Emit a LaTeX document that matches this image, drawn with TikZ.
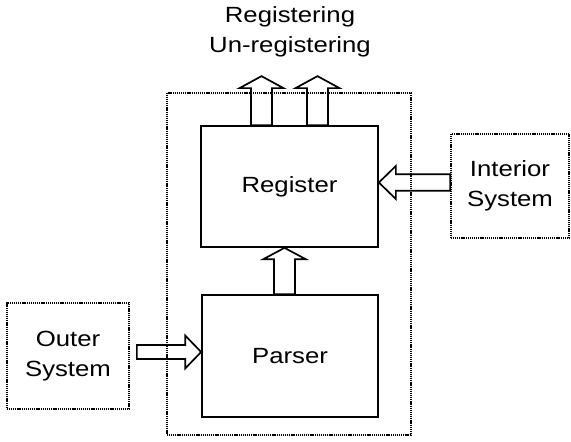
\documentclass[tikz,border=0pt]{standalone}
\usepackage{fontspec}
\setmainfont[FakeStretch=1.17]{Liberation Sans}
\usetikzlibrary{calc}

\tikzset{
  solidbox/.style={draw, line width=1.7pt, rectangle, inner sep=0pt, align=center},
  dotbox/.style={draw, line width=1.7pt, dash pattern=on 1.1pt off 0.8pt, rectangle, inner sep=0pt, align=center},
  blockarrow/.style={draw, line width=1.7pt, line join=miter},
  lbl/.style={align=center, inner sep=0pt}
}

% outlined block arrow: #1 tail, #2 tip, #3 shaft half-width, #4 head half-width, #5 head length
\newcommand\blockarrow[5]{%
  \coordinate (ba-h) at ($(#2)!#5pt!(#1)$);
  \draw[blockarrow]
    ($(#1)!#3pt!90:(#2)$) -- ($(ba-h)!#3pt!90:(#2)$) -- ($(ba-h)!#4pt!90:(#2)$)
    -- (#2)
    -- ($(ba-h)!#4pt!-90:(#2)$) -- ($(ba-h)!#3pt!-90:(#2)$) -- ($(#1)!#3pt!-90:(#2)$) -- cycle;}

\begin{document}
\begin{tikzpicture}[x=1pt, y=1pt, font=\fontsize{22}{29.5}\selectfont]
\useasboundingbox (0,0) rectangle (571,442);

% enclosing subsystem
\node[dotbox, minimum width=244pt, minimum height=342pt] (sys) at (289,178) {};

% inner blocks
\node[solidbox, minimum width=177pt, minimum height=121pt] (reg) at (289.5,255.5) {Register};
\node[solidbox, minimum width=176pt, minimum height=122pt] (par) at (290,86) {Parser};

% external systems
\node[dotbox, minimum width=118pt, minimum height=104pt] (inter) at (510,256) {Interior\\System};
\node[dotbox, minimum width=122pt, minimum height=106pt] (outer) at (68,86) {Outer\\System};

% output label
\node[lbl] (out) at (290,410) {Registering\\Un-registering};

% outputs of the register
\coordinate (o1t) at ($(reg.north)+(-28,0)$);
\coordinate (o1h) at ($(o1t)+(0,49)$);
\coordinate (o2t) at ($(reg.north)+(28,0)$);
\coordinate (o2h) at ($(o2t)+(0,49)$);
\blockarrow{o1t}{o1h}{10.5}{22}{12}
\blockarrow{o2t}{o2h}{10.5}{22}{12}

% parser to register
\coordinate (pt) at ($(par.north)+(-5.5,0)$);
\coordinate (ph) at (pt |- reg.south);
\blockarrow{pt}{ph}{10.5}{21.5}{11.5}

% interior system to register
\coordinate (it) at ($(inter.west)+(0,3.5)$);
\coordinate (ih) at (reg.east |- it);
\blockarrow{it}{ih}{8.2}{16.5}{17}

% outer system to parser
\coordinate (et) at ($(outer.east)+(7,4)$);
\coordinate (eh) at (par.west |- et);
\blockarrow{et}{eh}{7}{16.5}{16}
\end{tikzpicture}
\end{document}
